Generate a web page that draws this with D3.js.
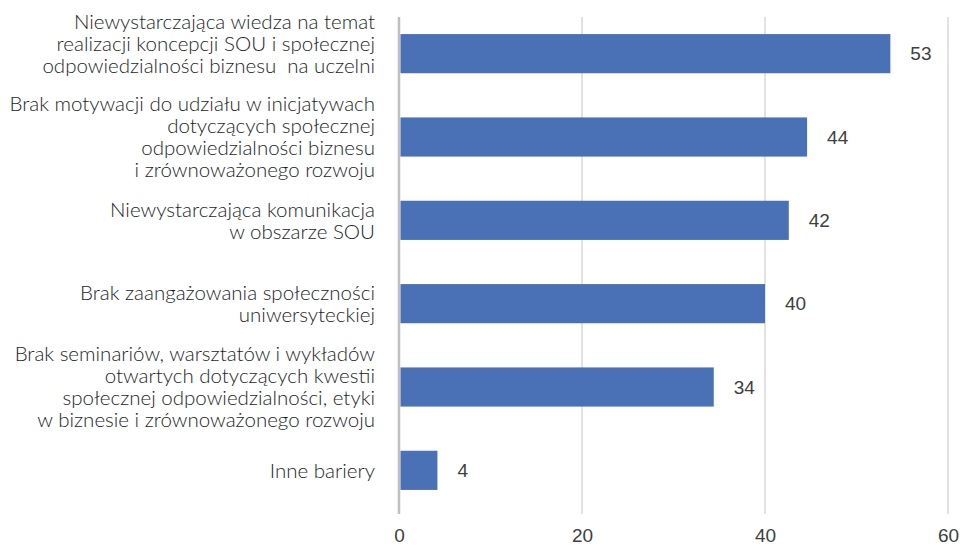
<!DOCTYPE html>
<html>
<head>
<meta charset="utf-8">
<script src="https://cdn.jsdelivr.net/npm/d3@7"></script>
<style>
  body { margin: 0; background: #fff; }
</style>
</head>
<body>
<svg width="966" height="547"></svg>
<script>
// category labels, already split into lines as in the picture
const categories = [
    ["Niewystarczająca wiedza na temat", "realizacji koncepcji SOU i społecznej", "odpowiedzialności biznesu  na uczelni"],
    ["Brak motywacji do udziału w inicjatywach", "dotyczących społecznej", "odpowiedzialności biznesu", "i zrównoważonego rozwoju"],
    ["Niewystarczająca komunikacja", "w obszarze SOU"],
    ["Brak zaangażowania społeczności", "uniwersyteckiej"],
    ["Brak seminariów, warsztatów i wykładów", "otwartych dotyczących kwestii", "społecznej odpowiedzialności, etyki", "w biznesie i zrównoważonego rozwoju"],
    ["Inne bariery"]
];
const values = [53.7, 44.6, 42.6, 40.0, 34.4, 4.2];
const valueLabels = ["53", "44", "42", "40", "34", "4"];
const ticks = [0, 20, 40, 60];

let svg = d3.select("svg");

const plotLeft = 399, plotRight = 948;
const plotTop = 12, plotBottom = 512;

let x = d3.scaleLinear().domain([0, 60]).range([plotLeft, plotRight]);
let y = d3.scaleBand()
    .domain(d3.range(categories.length))
    .range([plotTop, plotBottom])
    .paddingInner(0.53)
    .paddingOuter(0.265);

// gridlines
svg.append("g")
    .selectAll("line")
    .data(ticks)
    .enter()
    .append("line")
    .attr("x1", d => x(d))
    .attr("x2", d => x(d))
    .attr("y1", 17)
    .attr("y2", 514)
    .attr("stroke", d => d === 0 ? "#bfbfbf" : "#d9d9d9")
    .attr("stroke-width", d => d === 0 ? 2.5 : 1.5);

// x axis tick labels
let xAxis = d3.axisBottom(x).tickValues(ticks).tickSize(0).tickPadding(0);
let ax = svg.append("g")
    .attr("transform", "translate(0,528)")
    .call(xAxis);
ax.select(".domain").remove();
ax.selectAll("text")
    .attr("fill", "#404040")
    .style("font-family", "'Liberation Sans', sans-serif")
    .style("font-size", "19px");

// bars
svg.append("g")
    .selectAll("rect")
    .data(values)
    .enter()
    .append("rect")
    .attr("x", x(0) + 1.5)
    .attr("y", (d, i) => y(i))
    .attr("width", d => x(d) - x(0) - 1.5)
    .attr("height", y.bandwidth())
    .attr("fill", "#4a71b6");

// value labels
svg.append("g")
    .selectAll("text")
    .data(values)
    .enter()
    .append("text")
    .attr("x", d => x(d) + 20)
    .attr("y", (d, i) => y(i) + y.bandwidth() / 2)
    .attr("dy", "0.35em")
    .attr("fill", "#404040")
    .style("font-family", "'Liberation Sans', sans-serif")
    .style("font-size", "19px")
    .text((d, i) => valueLabels[i]);

// category labels
const lineH = 22;
let cat = svg.append("g")
    .selectAll("text")
    .data(categories)
    .enter()
    .append("text")
    .attr("text-anchor", "end")
    .attr("fill", "#1e1e1e")
    .style("font-family", "Lato, sans-serif")
    .style("font-weight", 300)
    .style("font-size", "20.5px")
    .style("white-space", "pre")
    .attr("transform", (d, i) => {
        let cy = y(i) + y.bandwidth() / 2 - (d.length - 1) * lineH / 2;
        if (i === 0) cy -= 10; // first label sits higher in the original
        return `translate(375,${cy})`;
    });

cat.selectAll("tspan")
    .data(d => d)
    .enter()
    .append("tspan")
    .attr("x", 0)
    .attr("y", (d, j) => j * lineH)
    .attr("dy", "0.35em")
    .text(d => d);
</script>
</body>
</html>
